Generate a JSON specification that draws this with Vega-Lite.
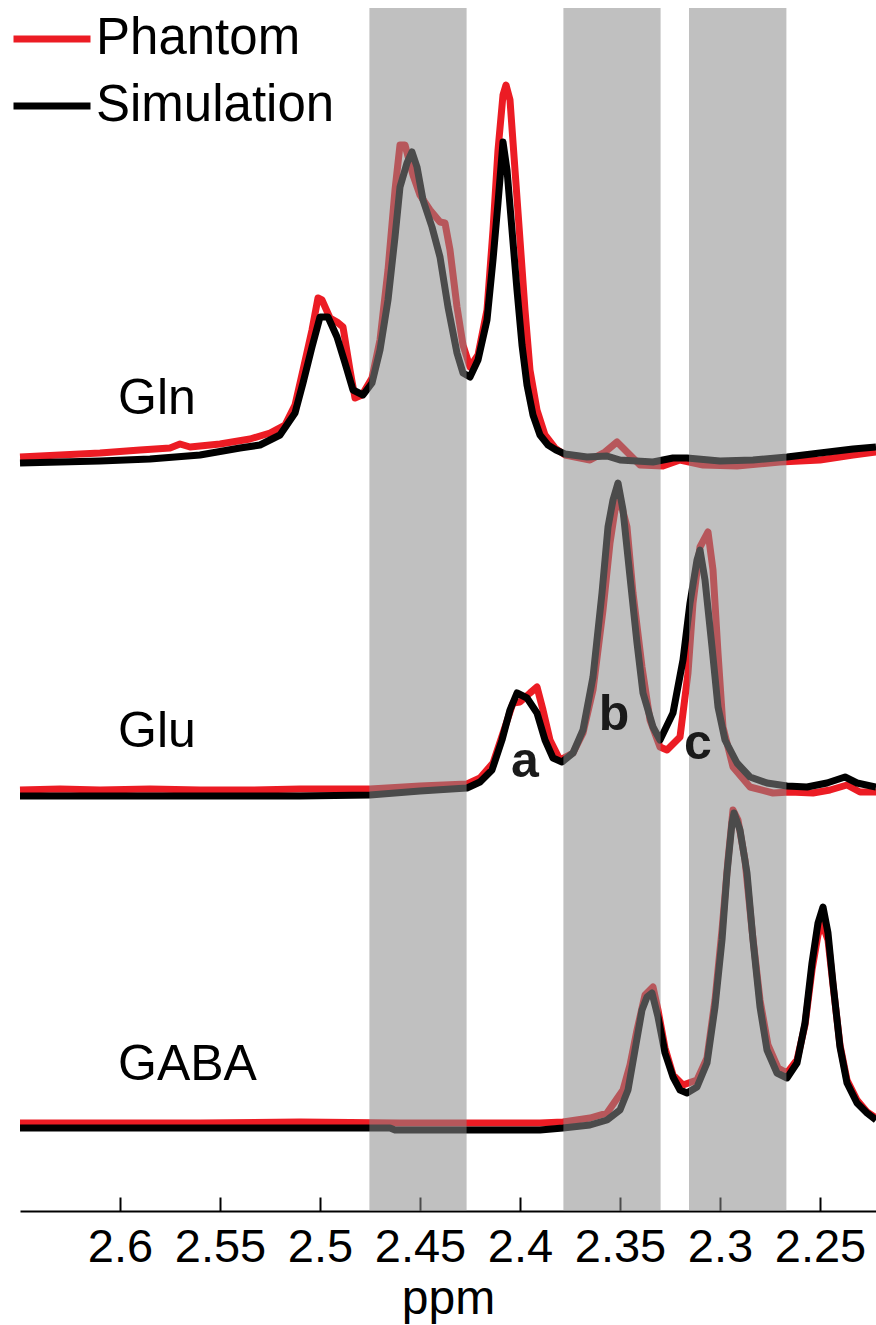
{
 "$schema": "https://vega.github.io/schema/vega-lite/v6.json",
 "width": 856,
 "height": 1203,
 "autosize": {"type": "none"},
 "padding": {"left": 20, "top": 8, "right": 0, "bottom": 114},
 "background": "white",
 "config": {"view": {"stroke": null}, "font": "Liberation Sans"},
 "datasets": {
  "spectra": [
   {"m":"Gln","s":"Simulation","p":2.65,"v":748},{"m":"Gln","s":"Simulation","p":2.61,"v":750},{"m":"Gln","s":"Simulation","p":2.585,"v":752},{"m":"Gln","s":"Simulation","p":2.56,"v":756},{"m":"Gln","s":"Simulation","p":2.54,"v":763},{"m":"Gln","s":"Simulation","p":2.53,"v":766},{"m":"Gln","s":"Simulation","p":2.52,"v":776},{"m":"Gln","s":"Simulation","p":2.5125,"v":798},{"m":"Gln","s":"Simulation","p":2.5085,"v":828},{"m":"Gln","s":"Simulation","p":2.504,"v":864},{"m":"Gln","s":"Simulation","p":2.5,"v":894},{"m":"Gln","s":"Simulation","p":2.496,"v":894},{"m":"Gln","s":"Simulation","p":2.4915,"v":874},{"m":"Gln","s":"Simulation","p":2.4875,"v":848},{"m":"Gln","s":"Simulation","p":2.4835,"v":821},{"m":"Gln","s":"Simulation","p":2.4785,"v":816},{"m":"Gln","s":"Simulation","p":2.474,"v":828},{"m":"Gln","s":"Simulation","p":2.47,"v":861},{"m":"Gln","s":"Simulation","p":2.466,"v":911},{"m":"Gln","s":"Simulation","p":2.4625,"v":974},{"m":"Gln","s":"Simulation","p":2.46,"v":1024},{"m":"Gln","s":"Simulation","p":2.4565,"v":1048},{"m":"Gln","s":"Simulation","p":2.454,"v":1059},{"m":"Gln","s":"Simulation","p":2.4515,"v":1044},{"m":"Gln","s":"Simulation","p":2.4485,"v":1011},{"m":"Gln","s":"Simulation","p":2.444,"v":984},{"m":"Gln","s":"Simulation","p":2.44,"v":954},{"m":"Gln","s":"Simulation","p":2.436,"v":904},{"m":"Gln","s":"Simulation","p":2.4315,"v":858},{"m":"Gln","s":"Simulation","p":2.4285,"v":838},{"m":"Gln","s":"Simulation","p":2.425,"v":834},{"m":"Gln","s":"Simulation","p":2.421,"v":851},{"m":"Gln","s":"Simulation","p":2.4165,"v":891},{"m":"Gln","s":"Simulation","p":2.4135,"v":951},{"m":"Gln","s":"Simulation","p":2.411,"v":1008},{"m":"Gln","s":"Simulation","p":2.4085,"v":1069},{"m":"Gln","s":"Simulation","p":2.4065,"v":1041},{"m":"Gln","s":"Simulation","p":2.404,"v":981},{"m":"Gln","s":"Simulation","p":2.4015,"v":921},{"m":"Gln","s":"Simulation","p":2.399,"v":866},{"m":"Gln","s":"Simulation","p":2.3965,"v":826},{"m":"Gln","s":"Simulation","p":2.3935,"v":796},{"m":"Gln","s":"Simulation","p":2.39,"v":776},{"m":"Gln","s":"Simulation","p":2.386,"v":766},{"m":"Gln","s":"Simulation","p":2.382,"v":761},{"m":"Gln","s":"Simulation","p":2.3775,"v":757},{"m":"Gln","s":"Simulation","p":2.3665,"v":754},{"m":"Gln","s":"Simulation","p":2.3565,"v":755},{"m":"Gln","s":"Simulation","p":2.35,"v":751},{"m":"Gln","s":"Simulation","p":2.3335,"v":749},{"m":"Gln","s":"Simulation","p":2.3235,"v":753},{"m":"Gln","s":"Simulation","p":2.3165,"v":753},{"m":"Gln","s":"Simulation","p":2.3,"v":750},{"m":"Gln","s":"Simulation","p":2.2835,"v":751},{"m":"Gln","s":"Simulation","p":2.2665,"v":754},{"m":"Gln","s":"Simulation","p":2.25,"v":758},{"m":"Gln","s":"Simulation","p":2.2335,"v":762},{"m":"Gln","s":"Simulation","p":2.222,"v":764},
   {"m":"Gln","s":"Phantom","p":2.65,"v":754},{"m":"Gln","s":"Phantom","p":2.63,"v":756},{"m":"Gln","s":"Phantom","p":2.61,"v":758},{"m":"Gln","s":"Phantom","p":2.59,"v":761},{"m":"Gln","s":"Phantom","p":2.575,"v":763},{"m":"Gln","s":"Phantom","p":2.57,"v":767},{"m":"Gln","s":"Phantom","p":2.565,"v":764},{"m":"Gln","s":"Phantom","p":2.55,"v":767},{"m":"Gln","s":"Phantom","p":2.535,"v":772},{"m":"Gln","s":"Phantom","p":2.525,"v":778},{"m":"Gln","s":"Phantom","p":2.5175,"v":786},{"m":"Gln","s":"Phantom","p":2.5125,"v":806},{"m":"Gln","s":"Phantom","p":2.5085,"v":841},{"m":"Gln","s":"Phantom","p":2.504,"v":881},{"m":"Gln","s":"Phantom","p":2.501,"v":913},{"m":"Gln","s":"Phantom","p":2.499,"v":911},{"m":"Gln","s":"Phantom","p":2.495,"v":893},{"m":"Gln","s":"Phantom","p":2.4915,"v":889},{"m":"Gln","s":"Phantom","p":2.4885,"v":884},{"m":"Gln","s":"Phantom","p":2.485,"v":841},{"m":"Gln","s":"Phantom","p":2.4825,"v":813},{"m":"Gln","s":"Phantom","p":2.479,"v":816},{"m":"Gln","s":"Phantom","p":2.474,"v":833},{"m":"Gln","s":"Phantom","p":2.47,"v":871},{"m":"Gln","s":"Phantom","p":2.466,"v":941},{"m":"Gln","s":"Phantom","p":2.4625,"v":1021},{"m":"Gln","s":"Phantom","p":2.46,"v":1066},{"m":"Gln","s":"Phantom","p":2.4575,"v":1066},{"m":"Gln","s":"Phantom","p":2.4535,"v":1036},{"m":"Gln","s":"Phantom","p":2.45,"v":1016},{"m":"Gln","s":"Phantom","p":2.445,"v":1001},{"m":"Gln","s":"Phantom","p":2.44,"v":989},{"m":"Gln","s":"Phantom","p":2.4375,"v":988},{"m":"Gln","s":"Phantom","p":2.435,"v":961},{"m":"Gln","s":"Phantom","p":2.4315,"v":904},{"m":"Gln","s":"Phantom","p":2.4285,"v":866},{"m":"Gln","s":"Phantom","p":2.425,"v":844},{"m":"Gln","s":"Phantom","p":2.421,"v":856},{"m":"Gln","s":"Phantom","p":2.4165,"v":901},{"m":"Gln","s":"Phantom","p":2.4135,"v":981},{"m":"Gln","s":"Phantom","p":2.411,"v":1061},{"m":"Gln","s":"Phantom","p":2.4085,"v":1116},{"m":"Gln","s":"Phantom","p":2.407,"v":1126},{"m":"Gln","s":"Phantom","p":2.405,"v":1111},{"m":"Gln","s":"Phantom","p":2.4025,"v":1041},{"m":"Gln","s":"Phantom","p":2.4,"v":971},{"m":"Gln","s":"Phantom","p":2.3975,"v":901},{"m":"Gln","s":"Phantom","p":2.395,"v":841},{"m":"Gln","s":"Phantom","p":2.3915,"v":801},{"m":"Gln","s":"Phantom","p":2.3875,"v":776},{"m":"Gln","s":"Phantom","p":2.3825,"v":763},{"m":"Gln","s":"Phantom","p":2.3775,"v":756},{"m":"Gln","s":"Phantom","p":2.365,"v":751},{"m":"Gln","s":"Phantom","p":2.3575,"v":759},{"m":"Gln","s":"Phantom","p":2.3515,"v":769},{"m":"Gln","s":"Phantom","p":2.3465,"v":759},{"m":"Gln","s":"Phantom","p":2.34,"v":746},{"m":"Gln","s":"Phantom","p":2.3285,"v":745},{"m":"Gln","s":"Phantom","p":2.32,"v":751},{"m":"Gln","s":"Phantom","p":2.3085,"v":746},{"m":"Gln","s":"Phantom","p":2.2915,"v":745},{"m":"Gln","s":"Phantom","p":2.27,"v":749},{"m":"Gln","s":"Phantom","p":2.25,"v":751},{"m":"Gln","s":"Phantom","p":2.2335,"v":756},{"m":"Gln","s":"Phantom","p":2.222,"v":759},
   {"m":"Glu","s":"Simulation","p":2.65,"v":415},{"m":"Glu","s":"Simulation","p":2.61,"v":415},{"m":"Glu","s":"Simulation","p":2.56,"v":415},{"m":"Glu","s":"Simulation","p":2.51,"v":415},{"m":"Glu","s":"Simulation","p":2.475,"v":416},{"m":"Glu","s":"Simulation","p":2.45,"v":420},{"m":"Glu","s":"Simulation","p":2.4265,"v":423},{"m":"Glu","s":"Simulation","p":2.42,"v":429},{"m":"Glu","s":"Simulation","p":2.414,"v":441},{"m":"Glu","s":"Simulation","p":2.409,"v":471},{"m":"Glu","s":"Simulation","p":2.405,"v":501},{"m":"Glu","s":"Simulation","p":2.4015,"v":518},{"m":"Glu","s":"Simulation","p":2.3965,"v":513},{"m":"Glu","s":"Simulation","p":2.3915,"v":498},{"m":"Glu","s":"Simulation","p":2.3875,"v":471},{"m":"Glu","s":"Simulation","p":2.3835,"v":453},{"m":"Glu","s":"Simulation","p":2.379,"v":449},{"m":"Glu","s":"Simulation","p":2.3735,"v":458},{"m":"Glu","s":"Simulation","p":2.3685,"v":481},{"m":"Glu","s":"Simulation","p":2.3635,"v":534},{"m":"Glu","s":"Simulation","p":2.359,"v":618},{"m":"Glu","s":"Simulation","p":2.356,"v":684},{"m":"Glu","s":"Simulation","p":2.3535,"v":711},{"m":"Glu","s":"Simulation","p":2.351,"v":728},{"m":"Glu","s":"Simulation","p":2.3485,"v":701},{"m":"Glu","s":"Simulation","p":2.345,"v":634},{"m":"Glu","s":"Simulation","p":2.3415,"v":568},{"m":"Glu","s":"Simulation","p":2.3385,"v":518},{"m":"Glu","s":"Simulation","p":2.3335,"v":484},{"m":"Glu","s":"Simulation","p":2.33,"v":471},{"m":"Glu","s":"Simulation","p":2.3235,"v":498},{"m":"Glu","s":"Simulation","p":2.3185,"v":551},{"m":"Glu","s":"Simulation","p":2.315,"v":608},{"m":"Glu","s":"Simulation","p":2.3115,"v":651},{"m":"Glu","s":"Simulation","p":2.31,"v":661},{"m":"Glu","s":"Simulation","p":2.3075,"v":631},{"m":"Glu","s":"Simulation","p":2.304,"v":564},{"m":"Glu","s":"Simulation","p":2.301,"v":504},{"m":"Glu","s":"Simulation","p":2.2975,"v":471},{"m":"Glu","s":"Simulation","p":2.2915,"v":448},{"m":"Glu","s":"Simulation","p":2.285,"v":434},{"m":"Glu","s":"Simulation","p":2.2765,"v":428},{"m":"Glu","s":"Simulation","p":2.2665,"v":425},{"m":"Glu","s":"Simulation","p":2.2565,"v":424},{"m":"Glu","s":"Simulation","p":2.2465,"v":428},{"m":"Glu","s":"Simulation","p":2.2375,"v":434},{"m":"Glu","s":"Simulation","p":2.2315,"v":428},{"m":"Glu","s":"Simulation","p":2.222,"v":424},
   {"m":"Glu","s":"Phantom","p":2.65,"v":421},{"m":"Glu","s":"Phantom","p":2.63,"v":422},{"m":"Glu","s":"Phantom","p":2.61,"v":421},{"m":"Glu","s":"Phantom","p":2.585,"v":422},{"m":"Glu","s":"Phantom","p":2.56,"v":421},{"m":"Glu","s":"Phantom","p":2.535,"v":421},{"m":"Glu","s":"Phantom","p":2.51,"v":422},{"m":"Glu","s":"Phantom","p":2.475,"v":422},{"m":"Glu","s":"Phantom","p":2.45,"v":425},{"m":"Glu","s":"Phantom","p":2.4265,"v":427},{"m":"Glu","s":"Phantom","p":2.42,"v":433},{"m":"Glu","s":"Phantom","p":2.4135,"v":448},{"m":"Glu","s":"Phantom","p":2.4085,"v":478},{"m":"Glu","s":"Phantom","p":2.4035,"v":508},{"m":"Glu","s":"Phantom","p":2.4,"v":509},{"m":"Glu","s":"Phantom","p":2.395,"v":518},{"m":"Glu","s":"Phantom","p":2.3915,"v":524},{"m":"Glu","s":"Phantom","p":2.3885,"v":501},{"m":"Glu","s":"Phantom","p":2.385,"v":471},{"m":"Glu","s":"Phantom","p":2.38,"v":451},{"m":"Glu","s":"Phantom","p":2.3735,"v":458},{"m":"Glu","s":"Phantom","p":2.3685,"v":478},{"m":"Glu","s":"Phantom","p":2.3635,"v":521},{"m":"Glu","s":"Phantom","p":2.3585,"v":601},{"m":"Glu","s":"Phantom","p":2.355,"v":668},{"m":"Glu","s":"Phantom","p":2.3525,"v":701},{"m":"Glu","s":"Phantom","p":2.35,"v":711},{"m":"Glu","s":"Phantom","p":2.3465,"v":684},{"m":"Glu","s":"Phantom","p":2.3435,"v":618},{"m":"Glu","s":"Phantom","p":2.339,"v":544},{"m":"Glu","s":"Phantom","p":2.335,"v":491},{"m":"Glu","s":"Phantom","p":2.33,"v":464},{"m":"Glu","s":"Phantom","p":2.3265,"v":461},{"m":"Glu","s":"Phantom","p":2.32,"v":474},{"m":"Glu","s":"Phantom","p":2.316,"v":538},{"m":"Glu","s":"Phantom","p":2.3135,"v":608},{"m":"Glu","s":"Phantom","p":2.31,"v":664},{"m":"Glu","s":"Phantom","p":2.306,"v":679},{"m":"Glu","s":"Phantom","p":2.3035,"v":641},{"m":"Glu","s":"Phantom","p":2.301,"v":558},{"m":"Glu","s":"Phantom","p":2.2985,"v":484},{"m":"Glu","s":"Phantom","p":2.2935,"v":444},{"m":"Glu","s":"Phantom","p":2.285,"v":424},{"m":"Glu","s":"Phantom","p":2.2735,"v":418},{"m":"Glu","s":"Phantom","p":2.265,"v":419},{"m":"Glu","s":"Phantom","p":2.2535,"v":418},{"m":"Glu","s":"Phantom","p":2.245,"v":421},{"m":"Glu","s":"Phantom","p":2.2365,"v":426},{"m":"Glu","s":"Phantom","p":2.23,"v":419},{"m":"Glu","s":"Phantom","p":2.222,"v":419},
   {"m":"GABA","s":"Simulation","p":2.65,"v":83},{"m":"GABA","s":"Simulation","p":2.56,"v":83},{"m":"GABA","s":"Simulation","p":2.465,"v":83},{"m":"GABA","s":"Simulation","p":2.4625,"v":81},{"m":"GABA","s":"Simulation","p":2.39,"v":81},{"m":"GABA","s":"Simulation","p":2.3785,"v":83},{"m":"GABA","s":"Simulation","p":2.365,"v":86},{"m":"GABA","s":"Simulation","p":2.3565,"v":91},{"m":"GABA","s":"Simulation","p":2.35,"v":101},{"m":"GABA","s":"Simulation","p":2.346,"v":121},{"m":"GABA","s":"Simulation","p":2.3425,"v":161},{"m":"GABA","s":"Simulation","p":2.339,"v":201},{"m":"GABA","s":"Simulation","p":2.3365,"v":214},{"m":"GABA","s":"Simulation","p":2.334,"v":218},{"m":"GABA","s":"Simulation","p":2.331,"v":194},{"m":"GABA","s":"Simulation","p":2.3275,"v":158},{"m":"GABA","s":"Simulation","p":2.3235,"v":134},{"m":"GABA","s":"Simulation","p":2.32,"v":121},{"m":"GABA","s":"Simulation","p":2.3165,"v":118},{"m":"GABA","s":"Simulation","p":2.3115,"v":124},{"m":"GABA","s":"Simulation","p":2.3065,"v":148},{"m":"GABA","s":"Simulation","p":2.3025,"v":204},{"m":"GABA","s":"Simulation","p":2.299,"v":271},{"m":"GABA","s":"Simulation","p":2.2965,"v":338},{"m":"GABA","s":"Simulation","p":2.294,"v":388},{"m":"GABA","s":"Simulation","p":2.293,"v":398},{"m":"GABA","s":"Simulation","p":2.29,"v":381},{"m":"GABA","s":"Simulation","p":2.2865,"v":338},{"m":"GABA","s":"Simulation","p":2.2835,"v":271},{"m":"GABA","s":"Simulation","p":2.28,"v":204},{"m":"GABA","s":"Simulation","p":2.2765,"v":161},{"m":"GABA","s":"Simulation","p":2.2715,"v":138},{"m":"GABA","s":"Simulation","p":2.2665,"v":133},{"m":"GABA","s":"Simulation","p":2.2615,"v":148},{"m":"GABA","s":"Simulation","p":2.2575,"v":188},{"m":"GABA","s":"Simulation","p":2.254,"v":248},{"m":"GABA","s":"Simulation","p":2.251,"v":288},{"m":"GABA","s":"Simulation","p":2.2485,"v":304},{"m":"GABA","s":"Simulation","p":2.246,"v":278},{"m":"GABA","s":"Simulation","p":2.2435,"v":228},{"m":"GABA","s":"Simulation","p":2.24,"v":164},{"m":"GABA","s":"Simulation","p":2.2365,"v":128},{"m":"GABA","s":"Simulation","p":2.2315,"v":108},{"m":"GABA","s":"Simulation","p":2.2265,"v":98},{"m":"GABA","s":"Simulation","p":2.222,"v":91},
   {"m":"GABA","s":"Phantom","p":2.65,"v":88},{"m":"GABA","s":"Phantom","p":2.56,"v":88},{"m":"GABA","s":"Phantom","p":2.51,"v":89},{"m":"GABA","s":"Phantom","p":2.46,"v":88},{"m":"GABA","s":"Phantom","p":2.39,"v":88},{"m":"GABA","s":"Phantom","p":2.3785,"v":89},{"m":"GABA","s":"Phantom","p":2.365,"v":93},{"m":"GABA","s":"Phantom","p":2.3565,"v":98},{"m":"GABA","s":"Phantom","p":2.3485,"v":121},{"m":"GABA","s":"Phantom","p":2.345,"v":146},{"m":"GABA","s":"Phantom","p":2.3415,"v":181},{"m":"GABA","s":"Phantom","p":2.3375,"v":216},{"m":"GABA","s":"Phantom","p":2.3335,"v":224},{"m":"GABA","s":"Phantom","p":2.331,"v":201},{"m":"GABA","s":"Phantom","p":2.3275,"v":163},{"m":"GABA","s":"Phantom","p":2.3235,"v":136},{"m":"GABA","s":"Phantom","p":2.3185,"v":126},{"m":"GABA","s":"Phantom","p":2.3115,"v":131},{"m":"GABA","s":"Phantom","p":2.3065,"v":153},{"m":"GABA","s":"Phantom","p":2.3025,"v":211},{"m":"GABA","s":"Phantom","p":2.299,"v":281},{"m":"GABA","s":"Phantom","p":2.296,"v":351},{"m":"GABA","s":"Phantom","p":2.2935,"v":401},{"m":"GABA","s":"Phantom","p":2.291,"v":391},{"m":"GABA","s":"Phantom","p":2.2875,"v":351},{"m":"GABA","s":"Phantom","p":2.284,"v":281},{"m":"GABA","s":"Phantom","p":2.28,"v":211},{"m":"GABA","s":"Phantom","p":2.276,"v":166},{"m":"GABA","s":"Phantom","p":2.271,"v":143},{"m":"GABA","s":"Phantom","p":2.2665,"v":138},{"m":"GABA","s":"Phantom","p":2.2615,"v":151},{"m":"GABA","s":"Phantom","p":2.2575,"v":186},{"m":"GABA","s":"Phantom","p":2.254,"v":241},{"m":"GABA","s":"Phantom","p":2.251,"v":276},{"m":"GABA","s":"Phantom","p":2.249,"v":288},{"m":"GABA","s":"Phantom","p":2.246,"v":271},{"m":"GABA","s":"Phantom","p":2.2435,"v":226},{"m":"GABA","s":"Phantom","p":2.24,"v":166},{"m":"GABA","s":"Phantom","p":2.2365,"v":131},{"m":"GABA","s":"Phantom","p":2.2315,"v":111},{"m":"GABA","s":"Phantom","p":2.2265,"v":99},{"m":"GABA","s":"Phantom","p":2.222,"v":93}
  ],
  "bands": [{"lo": 2.4267, "hi": 2.4753}, {"lo": 2.3297, "hi": 2.3783}, {"lo": 2.2668, "hi": 2.3155}],
  "names": [{"t": "Gln", "p": 2.601, "v": 797}, {"t": "Glu", "p": 2.601, "v": 464}, {"t": "GABA", "p": 2.601, "v": 131}],
  "letters": [{"t": "a", "p": 2.3975, "v": 434}, {"t": "b", "p": 2.353, "v": 481}, {"t": "c", "p": 2.311, "v": 452}]
 },
 "layer": [
  {
   "data": {"name": "spectra"},
   "transform": [{"filter": "datum.s === 'Phantom'"}],
   "mark": {"type": "line", "strokeWidth": 7, "strokeJoin": "round"},
   "encoding": {
    "x": {"field": "p", "type": "quantitative",
     "scale": {"domain": [2.222, 2.65], "reverse": true, "nice": false, "zero": false},
     "axis": {"title": "ppm", "values": [2.25, 2.3, 2.35, 2.4, 2.45, 2.5, 2.55, 2.6], "format": "~g",
      "labelFontSize": 47, "labelColor": "black", "labelFont": "Liberation Sans", "labelFlush": false, "labelOverlap": false,
      "titleFontSize": 48, "titleFontWeight": "normal", "titleColor": "black", "titleFont": "Liberation Sans",
      "domainColor": "black", "domainWidth": 2, "tickColor": "black", "tickWidth": 2, "tickSize": -14,
      "labelPadding": 27, "titlePadding": 5, "grid": false}},
    "y": {"field": "v", "type": "quantitative", "scale": {"domain": [0, 1203], "nice": false, "zero": false}, "axis": null},
    "color": {"field": "s", "type": "nominal",
     "scale": {"domain": ["Phantom", "Simulation"], "range": ["#ec1c24", "#000000"]},
     "legend": {"title": null, "orient": "none", "legendX": -10, "legendY": -11, "symbolType": "stroke", "symbolSize": 5929,
      "symbolStrokeWidth": 7, "labelFontSize": 51, "labelFont": "Liberation Sans", "labelColor": "black",
      "rowPadding": -9, "labelOffset": 2, "padding": 0, "labelLimit": 0}},
    "detail": {"field": "m"}
   }
  },
  {
   "data": {"name": "spectra"},
   "transform": [{"filter": "datum.s === 'Simulation'"}],
   "mark": {"type": "line", "strokeWidth": 7, "strokeJoin": "round"},
   "encoding": {
    "x": {"field": "p", "type": "quantitative"},
    "y": {"field": "v", "type": "quantitative"},
    "color": {"field": "s", "type": "nominal"},
    "detail": {"field": "m"}
   }
  },
  {
   "data": {"name": "bands"},
   "mark": {"type": "rect", "color": "#8b8b8b", "opacity": 0.54},
   "encoding": {
    "x": {"field": "lo", "type": "quantitative"},
    "x2": {"field": "hi"}
   }
  },
  {
   "data": {"name": "names"},
   "mark": {"type": "text", "fontSize": 50, "align": "left", "baseline": "alphabetic", "color": "black", "font": "Liberation Sans"},
   "encoding": {
    "x": {"field": "p", "type": "quantitative"},
    "y": {"field": "v", "type": "quantitative"},
    "text": {"field": "t"}
   }
  },
  {
   "data": {"name": "letters"},
   "mark": {"type": "text", "fontSize": 50, "fontWeight": "bold", "align": "center", "baseline": "alphabetic", "color": "#1a1a1a", "font": "Liberation Sans"},
   "encoding": {
    "x": {"field": "p", "type": "quantitative"},
    "y": {"field": "v", "type": "quantitative"},
    "text": {"field": "t"}
   }
  }
 ]
}
